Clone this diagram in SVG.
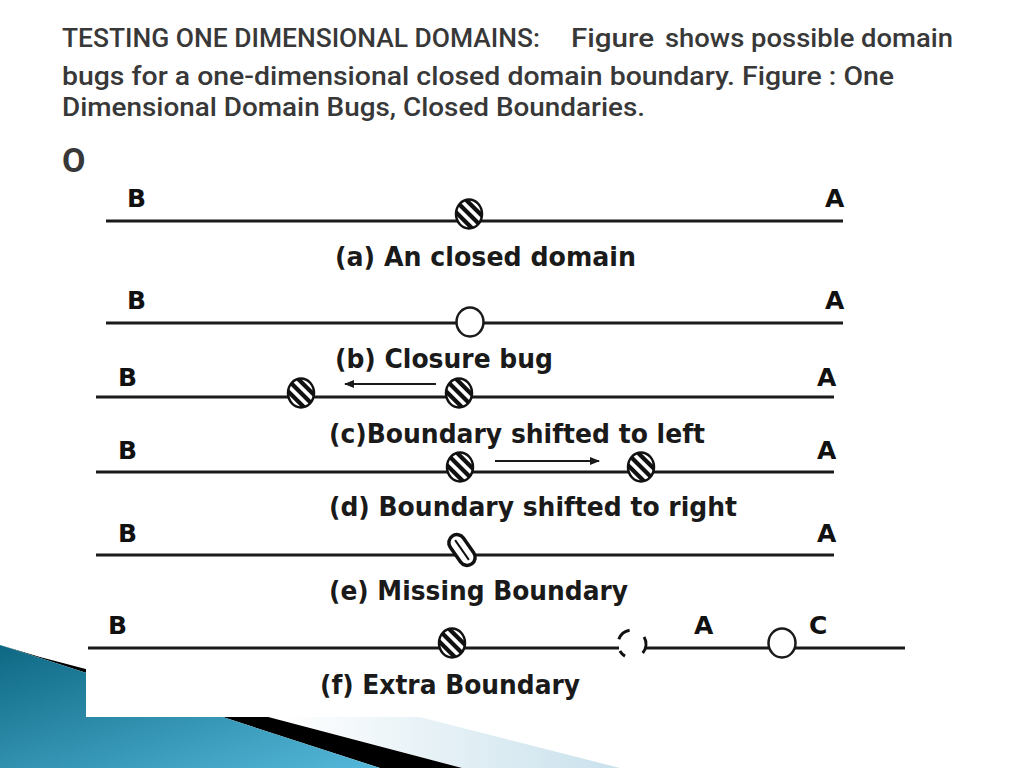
<svg xmlns="http://www.w3.org/2000/svg" xmlns:xlink="http://www.w3.org/1999/xlink" width="1024" height="768" viewBox="0 0 1024 768">
<style>
.title{font-family:Roboto,"Open Sans","Liberation Sans",sans-serif;font-weight:500;font-size:26px;fill:#383838}
.lbl{font-family:"DejaVu Sans","Liberation Sans",sans-serif;font-weight:bold;font-size:27px;fill:#1a1a1a}
.pt{font-family:"DejaVu Sans","Liberation Sans",sans-serif;font-weight:bold;font-size:25px;fill:#111}
.ln{stroke:#1a1a1a;stroke-width:3.2;fill:none}
.arr{stroke:#1a1a1a;stroke-width:2;fill:none;marker-end:url(#ah)}
.open{fill:#fff;stroke:#1a1a1a;stroke-width:2.5}
</style>
<defs>
<linearGradient id="blue" x1="0" y1="0" x2="1" y2="1">
<stop offset="0" stop-color="#0d6883"/>
<stop offset="1" stop-color="#55b8da"/>
</linearGradient>
<linearGradient id="pale" x1="0" y1="0" x2="1" y2="0">
<stop offset="0" stop-color="#ffffff"/>
<stop offset="0.45" stop-color="#ffffff"/>
<stop offset="1" stop-color="#c9e1ec"/>
</linearGradient>
<clipPath id="cc"><ellipse cx="0" cy="0" rx="13" ry="14.5"/></clipPath>
<g id="hc">
<ellipse rx="13" ry="14.5" fill="#fff"/>
<g clip-path="url(#cc)"><g transform="rotate(45)">
<rect x="-20" y="-10" width="40" height="4.2" fill="#111"/>
<rect x="-20" y="-2.1" width="40" height="4.2" fill="#111"/>
<rect x="-20" y="5.8" width="40" height="4.2" fill="#111"/>
</g></g>
<ellipse rx="13" ry="14.5" fill="none" stroke="#111" stroke-width="2.5"/>
</g>
<marker id="ah" markerWidth="10" markerHeight="8" refX="9" refY="4" orient="auto" markerUnits="userSpaceOnUse">
<path d="M0,0 L10,4 L0,8 Z" fill="#1a1a1a"/>
</marker>
</defs>
<rect width="1024" height="768" fill="#fff"/>
<g id="decor">
<polygon points="0,610 620,768 462,768 0,645" fill="url(#pale)"/>
<polygon points="0,645 380,768 462,768 40,657" fill="#000"/>
<polygon points="0,645 380,768 0,768" fill="url(#blue)"/>
<rect x="86" y="165" width="824" height="552" fill="#fff"/>
</g>
<g id="title">
<text class="title" x="62" y="47" textLength="478" lengthAdjust="spacingAndGlyphs">TESTING ONE DIMENSIONAL DOMAINS:</text>
<text class="title" x="571" y="47" textLength="83" lengthAdjust="spacingAndGlyphs">Figure</text>
<text class="title" x="665" y="47" textLength="288" lengthAdjust="spacingAndGlyphs">shows possible domain</text>
<text class="title" x="62" y="85" textLength="832" lengthAdjust="spacingAndGlyphs">bugs for a one-dimensional closed domain boundary. Figure : One</text>
<text class="title" x="62" y="116" textLength="583" lengthAdjust="spacingAndGlyphs">Dimensional Domain Bugs, Closed Boundaries.</text>
<text class="title" x="62" y="172" style="font-size:34px;font-weight:bold">O</text>
</g>
<g id="connectors">
<line class="ln" x1="106" y1="221" x2="843" y2="221"/>
<line class="ln" x1="106" y1="323" x2="843" y2="323"/>
<line class="ln" x1="96" y1="397" x2="834" y2="397"/>
<line class="ln" x1="96" y1="472" x2="834" y2="472"/>
<line class="ln" x1="96" y1="555" x2="834" y2="555"/>
<line class="ln" x1="88" y1="648" x2="619" y2="648"/>
<line class="ln" x1="646" y1="648" x2="905" y2="648"/>
<line class="arr" x1="436" y1="384" x2="345" y2="384"/>
<line class="arr" x1="495" y1="461" x2="599" y2="461"/>
</g>
<g id="row-a">
<text class="pt" x="127" y="207">B</text>
<text class="pt" x="825" y="207">A</text>
<use href="#hc" x="469" y="214"/>
<text class="lbl" x="335" y="266" textLength="301" lengthAdjust="spacingAndGlyphs">(a) An closed domain</text>
</g>
<g id="row-b">
<text class="pt" x="127" y="309">B</text>
<text class="pt" x="825" y="309">A</text>
<ellipse class="open" cx="470" cy="322" rx="13.5" ry="14.5"/>
<text class="lbl" x="335" y="368" textLength="218" lengthAdjust="spacingAndGlyphs">(b) Closure bug</text>
</g>
<g id="row-c">
<text class="pt" x="118" y="386">B</text>
<text class="pt" x="817" y="386">A</text>
<use href="#hc" x="301" y="393"/>
<use href="#hc" x="459" y="393"/>
<text class="lbl" x="329" y="443" textLength="376" lengthAdjust="spacingAndGlyphs">(c)Boundary shifted to left</text>
</g>
<g id="row-d">
<text class="pt" x="118" y="459">B</text>
<text class="pt" x="817" y="459">A</text>
<use href="#hc" x="460" y="467"/>
<use href="#hc" x="641" y="467"/>
<text class="lbl" x="329" y="516" textLength="408" lengthAdjust="spacingAndGlyphs">(d) Boundary shifted to right</text>
</g>
<g id="row-e">
<text class="pt" x="118" y="542">B</text>
<text class="pt" x="817" y="542">A</text>
<rect x="-17" y="-8" width="34" height="16" rx="8" transform="translate(462,550) rotate(55)" fill="#fff" stroke="#111" stroke-width="3.5"/>
<line x1="-12" y1="0" x2="12" y2="0" transform="translate(462,550) rotate(55)" stroke="#111" stroke-width="2"/>
<text class="lbl" x="329" y="600" textLength="299" lengthAdjust="spacingAndGlyphs">(e) Missing Boundary</text>
</g>
<g id="row-f">
<text class="pt" x="108" y="634">B</text>
<use href="#hc" x="452" y="643"/>
<path d="M644.1,637 A14,14 0 0 1 642.7,653 M618.8,639.2 A14,14 0 0 1 629.6,630.2 M625,656.1 A14,14 0 0 1 619.9,651" fill="none" stroke="#111" stroke-width="3"/>
<text class="pt" x="694" y="634">A</text>
<ellipse class="open" cx="782" cy="643" rx="13.5" ry="14.5"/>
<text class="pt" x="809" y="634">C</text>
<text class="lbl" x="320" y="694" textLength="260" lengthAdjust="spacingAndGlyphs">(f) Extra Boundary</text>
</g>
</svg>
